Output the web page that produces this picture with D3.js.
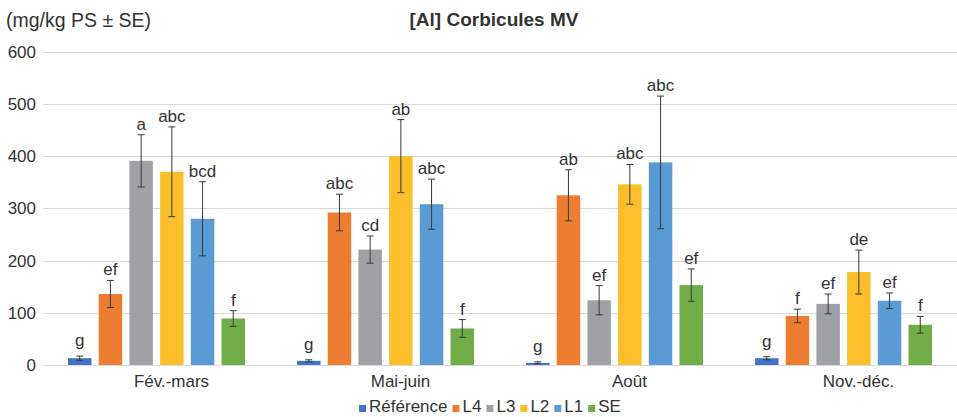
<!DOCTYPE html>
<html>
<head>
<meta charset="utf-8">
<script src="https://cdn.jsdelivr.net/npm/d3@7"></script>
<style>
  body { margin: 0; background: #fff; }
  svg text { font-family: "Liberation Sans", Arial, sans-serif; fill: #333333; }
</style>
</head>
<body>
<div id="container"></div>
<script>
// data
let periods = ["Fév.-mars", "Mai-juin", "Août", "Nov.-déc."];
let series = ["Référence", "L4", "L3", "L2", "L1", "SE"];
let colors = ["#4472c4", "#ed7d31", "#9fa1a4", "#fbbf2c", "#5b9bd5", "#70ad47"];

// mean values, one array per series (same order as periods)
let refValues = [13, 8, 4, 13];
let l4Values  = [136, 292, 325, 94];
let l3Values  = [391, 221, 124, 117];
let l2Values  = [370, 400, 346, 178];
let l1Values  = [280, 308, 388, 123];
let seValues  = [89, 70, 153, 77];

// standard errors
let refErr = [4, 2, 2, 3];
let l4Err  = [26, 35, 49, 13];
let l3Err  = [50, 26, 28, 19];
let l2Err  = [86, 70, 38, 42];
let l1Err  = [71, 48, 127, 15];
let seErr  = [15, 17, 31, 16];

// significance letters
let refLetters = ["g", "g", "g", "g"];
let l4Letters  = ["ef", "abc", "ab", "f"];
let l3Letters  = ["a", "cd", "ef", "ef"];
let l2Letters  = ["abc", "ab", "abc", "de"];
let l1Letters  = ["bcd", "abc", "abc", "ef"];
let seLetters  = ["f", "f", "ef", "f"];

let yTicks = [0, 100, 200, 300, 400, 500, 600];

let allValues  = [refValues, l4Values, l3Values, l2Values, l1Values, seValues];
let allErr     = [refErr, l4Err, l3Err, l2Err, l1Err, seErr];
let allLetters = [refLetters, l4Letters, l3Letters, l2Letters, l1Letters, seLetters];

// <---------the canvas---------->
let width = 957;
let height = 417;

let viz = d3.select("#container")
  .append("svg")
    .attr("width", width)
    .attr("height", height)
;

let x0 = d3.scaleBand()
  .domain(periods)
  .range([42, 958])
;

let x1 = d3.scaleBand()
  .domain(series)
  .range([26, 203])
  .paddingInner(0.235)
;

let y = d3.scaleLinear()
  .domain([0, 600])
  .range([365, 51.7])
;

// <---------grid + y labels---------->
viz.selectAll(".grid").data(yTicks).enter()
  .append("line")
    .attr("class", "grid")
    .attr("x1", 43)
    .attr("x2", 957)
    .attr("y1", d => Math.round(y(d)) + 0.5)
    .attr("y2", d => Math.round(y(d)) + 0.5)
    .attr("stroke", "#d9d9d9")
    .attr("stroke-width", 1)
;

viz.selectAll(".ylab").data(yTicks).enter()
  .append("text")
    .attr("class", "ylab")
    .attr("x", 36)
    .attr("y", d => y(d))
    .attr("dy", "0.35em")
    .attr("text-anchor", "end")
    .style("font-size", "17px")
    .text(d => d)
;

// <---------bars---------->
let rows = [];
for (let s = 0; s < series.length; s++) {
  for (let p = 0; p < periods.length; p++) {
    rows.push({
      period: periods[p],
      serie: series[s],
      color: colors[s],
      value: allValues[s][p],
      err: allErr[s][p],
      letter: allLetters[s][p]
    });
  }
}

let groups = viz.selectAll(".datagroup").data(rows).enter()
  .append("g")
    .attr("class", "datagroup")
    .attr("transform", d => "translate(" + (x0(d.period) + x1(d.serie)) + ", 0)")
;

groups.append("rect")
  .attr("x", 0)
  .attr("y", d => y(d.value))
  .attr("width", x1.bandwidth())
  .attr("height", d => y(0) - y(d.value))
  .attr("fill", d => d.color)
;

let bw = x1.bandwidth();

groups.append("line")
  .attr("x1", bw / 2)
  .attr("x2", bw / 2)
  .attr("y1", d => y(d.value + d.err))
  .attr("y2", d => y(Math.max(0, d.value - d.err)))
  .attr("stroke", "#3a3a3a")
  .attr("stroke-width", 1)
;

groups.append("line")
  .attr("x1", bw / 2 - 3.5)
  .attr("x2", bw / 2 + 3.5)
  .attr("y1", d => y(d.value + d.err))
  .attr("y2", d => y(d.value + d.err))
  .attr("stroke", "#3a3a3a")
  .attr("stroke-width", 1)
;

groups.append("line")
  .attr("x1", bw / 2 - 3.5)
  .attr("x2", bw / 2 + 3.5)
  .attr("y1", d => y(Math.max(0, d.value - d.err)))
  .attr("y2", d => y(Math.max(0, d.value - d.err)))
  .attr("stroke", "#3a3a3a")
  .attr("stroke-width", 1)
;

// letters with a descender sit a bit higher so they clear the cap
groups.append("text")
  .attr("x", bw / 2)
  .attr("y", d => y(d.value + d.err) - (/[gjpqy]/.test(d.letter) ? 10 : 5))
  .attr("text-anchor", "middle")
  .style("font-size", "17px")
  .text(d => d.letter)
;

// <---------x labels---------->
viz.selectAll(".xlab").data(periods).enter()
  .append("text")
    .attr("class", "xlab")
    .attr("x", d => x0(d) + x0.bandwidth() / 2 + 15)
    .attr("y", 387)
    .attr("text-anchor", "middle")
    .style("font-size", "17px")
    .text(d => d)
;

// <---------titles---------->
viz.append("text")
  .attr("x", 494)
  .attr("y", 26)
  .attr("text-anchor", "middle")
  .style("font-size", "19px")
  .style("font-weight", "bold")
  .text("[Al] Corbicules MV")
;

viz.append("text")
  .attr("x", 6)
  .attr("y", 27)
  .style("font-size", "19.5px")
  .text("(mg/kg PS ± SE)")
;

// <---------legend---------->
let legend = viz.append("g");
let lx = 0;
series.forEach(function(s, i) {
  legend.append("rect")
    .attr("x", lx)
    .attr("y", -7)
    .attr("width", 7)
    .attr("height", 7)
    .attr("fill", colors[i]);
  let t = legend.append("text")
    .attr("x", lx + 10)
    .attr("y", 0)
    .style("font-size", "17px")
    .text(s);
  lx += 10 + t.node().getComputedTextLength() + 5;
});
legend.attr("transform", "translate(" + (490 - (lx - 5) / 2) + ", 412)");
</script>
</body>
</html>
